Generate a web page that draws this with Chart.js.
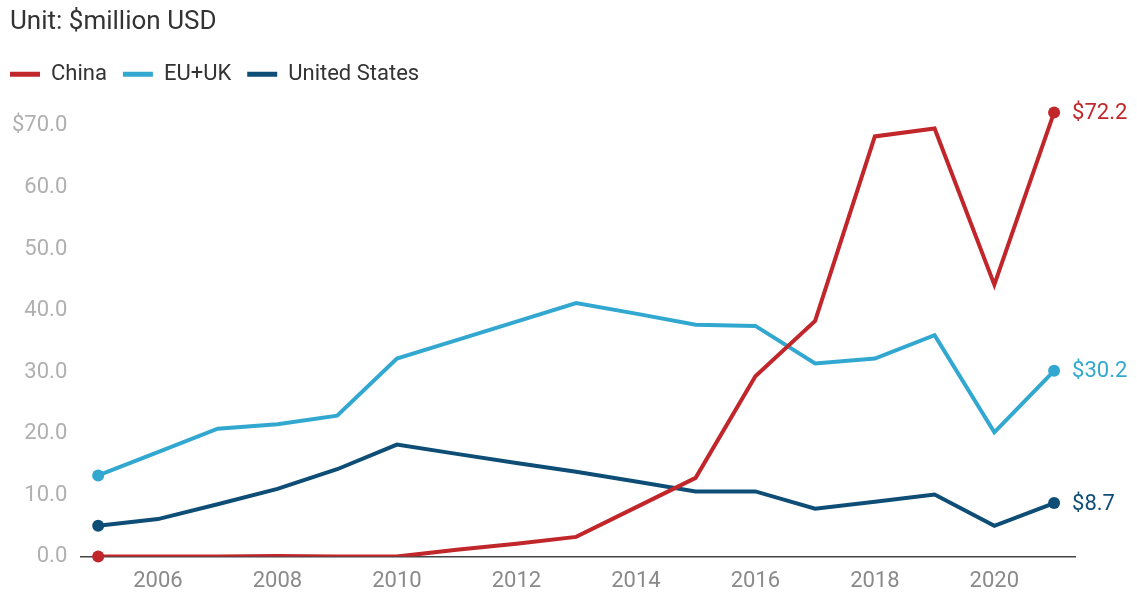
<!DOCTYPE html>
<html lang="en">
<head>
    <meta charset="UTF-8">
    <title>Funding by region</title>
    <script src="https://cdn.jsdelivr.net/npm/chart.js"></script>
    <style>
        html, body { margin: 0; padding: 0; background: #fff; }
        .chart-box { width: 1137px; height: 593px; }
    </style>
</head>
<body>
    <div class="chart-box">
        <canvas id="myChart"></canvas>
    </div>

<script>
const years = [2005, 2006, 2007, 2008, 2009, 2010, 2011, 2012, 2013, 2014, 2015, 2016, 2017, 2018, 2019, 2020, 2021];
const china = [0, 0, 0, 0.1, 0, 0, 1.1, 2.1, 3.2, 8.0, 12.8, 29.3, 38.3, 68.3, 69.6, 44.2, 72.2];
const euUk = [13.2, 17.0, 20.8, 21.5, 22.9, 32.2, 35.2, 38.2, 41.2, 39.5, 37.7, 37.5, 31.4, 32.2, 36.0, 20.2, 30.2];
const unitedStates = [5.0, 6.1, 8.5, 11.0, 14.2, 18.2, 16.7, 15.2, 13.8, 12.2, 10.6, 10.6, 7.8, 8.9, 10.1, 5.0, 8.7];
const xTicks = [2006, 2008, 2010, 2012, 2014, 2016, 2018, 2020];
const yTicks = [0, 10, 20, 30, 40, 50, 60, 70];

const RED = 'rgb(193, 38, 43)';
const LIGHT_BLUE = 'rgb(50, 168, 208)';
const DARK_BLUE = 'rgb(14, 78, 118)';

function series(label, values, color) {
    return {
        label: label,
        data: values.map((v, i) => ({ x: years[i], y: v })),
        borderColor: color,
        backgroundColor: color,
        borderWidth: 4,
        borderCapStyle: 'round',
        borderJoinStyle: 'miter',
        // legend swatch takes its look from the point style
        pointStyle: 'line',
        pointRadius: 0,
        pointBorderColor: color,
        pointBorderWidth: 5,
        tension: 0,
        fill: false
    };
}

// filled dots on the first and last point of each line
const endDots = {
    id: 'endDots',
    afterDatasetsDraw(chart) {
        const ctx = chart.ctx;
        ctx.save();
        chart.data.datasets.forEach((ds, i) => {
            const meta = chart.getDatasetMeta(i);
            [meta.data[0], meta.data[meta.data.length - 1]].forEach(pt => {
                ctx.beginPath();
                ctx.arc(pt.x, pt.y, 6, 0, Math.PI * 2);
                ctx.fillStyle = ds.borderColor;
                ctx.fill();
            });
        });
        ctx.restore();
    }
};

// last value printed next to each line's end point
const endLabels = {
    id: 'endLabels',
    afterDatasetsDraw(chart) {
        const ctx = chart.ctx;
        ctx.save();
        ctx.font = '22px Roboto';
        ctx.textBaseline = 'middle';
        ctx.textAlign = 'left';
        chart.data.datasets.forEach((ds, i) => {
            const meta = chart.getDatasetMeta(i);
            const pt = meta.data[meta.data.length - 1];
            const val = ds.data[ds.data.length - 1].y;
            ctx.fillStyle = ds.borderColor;
            ctx.fillText('$' + val.toFixed(1), pt.x + 18, pt.y + 1);
        });
        ctx.restore();
    }
};

// pull the legend row back to the same left edge as the title
const legendShift = {
    id: 'legendShift',
    afterLayout(chart) {
        const pad = chart.options.plugins.legend.labels.padding;
        chart.legend.left -= pad;
        chart.legend.right -= pad;
    }
};

function gerarGrafico() {
    const ctx = document.getElementById('myChart').getContext('2d');
    new Chart(ctx, {
        type: 'line',
        data: {
            datasets: [
                series('China', china, RED),
                series('EU+UK', euUk, LIGHT_BLUE),
                series('United States', unitedStates, DARK_BLUE)
            ]
        },
        options: {
            responsive: true,
            maintainAspectRatio: false,
            animation: false,
            layout: { padding: { left: 10, right: 62, top: 0, bottom: 0 } },
            plugins: {
                title: {
                    display: true,
                    text: 'Unit: $million USD',
                    align: 'start',
                    color: '#333',
                    font: { family: 'Roboto', size: 26, weight: 'normal' },
                    padding: { top: 7, bottom: 9 }
                },
                legend: {
                    display: true,
                    align: 'start',
                    labels: {
                        usePointStyle: true,
                        pointStyleWidth: 30,
                        color: '#333',
                        font: { family: 'Roboto', size: 22 },
                        padding: 16
                    }
                },
                tooltip: { enabled: false }
            },
            scales: {
                x: {
                    type: 'linear',
                    min: 2004.7,
                    max: 2021.35,
                    afterBuildTicks: axis => { axis.ticks = xTicks.map(v => ({ value: v })); },
                    // tick padding is counted twice in the axis height; drop the spare part
                    afterFit: axis => { axis.height -= 14; },
                    grid: { display: false, drawTicks: false },
                    border: { display: true, color: '#444', width: 1.5 },
                    ticks: {
                        color: '#8a8a8a',
                        font: { family: 'Roboto', size: 22 },
                        padding: 12,
                        maxRotation: 0,
                        callback: v => String(v)
                    }
                },
                y: {
                    min: 0,
                    max: 75,
                    afterBuildTicks: axis => { axis.ticks = yTicks.map(v => ({ value: v })); },
                    afterFit: axis => { axis.width -= 11; },
                    grid: { display: false, drawTicks: false },
                    border: { display: false },
                    ticks: {
                        color: '#b0b0b0',
                        font: { family: 'Roboto', size: 22 },
                        padding: 13,
                        callback: v => (v === 70 ? '$' : '') + v.toFixed(1)
                    }
                }
            }
        },
        plugins: [endDots, endLabels, legendShift]
    });
}

window.onload = function () {
    gerarGrafico();
};
</script>
</body>
</html>
